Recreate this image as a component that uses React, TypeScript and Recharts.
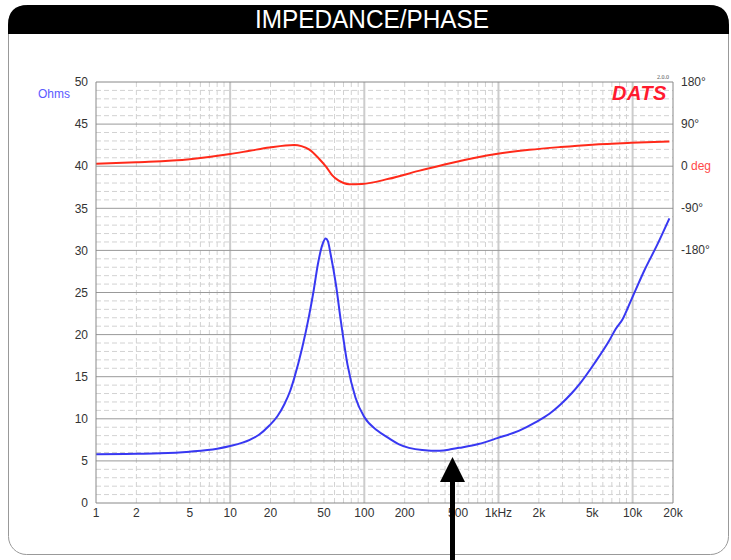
import React from 'react';
import { ComposedChart, Line, XAxis, YAxis, ReferenceLine } from 'recharts';

// ---- data ----
const IMP_FREQ = [1, 2, 3, 5, 8, 10, 14, 16.4, 19.6, 22.5, 25.3, 28, 30, 34.4, 38.7, 42, 45, 49, 51.5, 53.5, 56, 61.5, 67, 75, 86, 100, 125, 152, 180, 270, 365, 450, 510, 710, 980, 1430, 1900, 2400, 2900, 3500, 4100, 5200, 6700, 7500, 8400, 9700, 12300, 15400, 18800];
const IMP_OHMS = [5.78, 5.85, 5.9, 6.1, 6.45, 6.77, 7.5, 8.1, 9.2, 10.3, 11.7, 13.3, 14.8, 18.4, 22.2, 25.3, 28.3, 30.8, 31.4, 31.1, 29.6, 25.9, 21.5, 16.4, 12.5, 10.2, 8.6, 7.7, 7.0, 6.3, 6.2, 6.4, 6.55, 7.0, 7.7, 8.6, 9.6, 10.6, 11.7, 13.0, 14.3, 16.6, 19.3, 20.7, 21.8, 24.0, 27.7, 30.8, 33.8];

const PHASE_FREQ = [1, 2, 5, 10, 14, 19.6, 30, 34, 38.7, 46, 52, 57.5, 64.5, 77, 96, 152, 254, 445, 960, 1700, 2900, 5000, 9700, 18800];
const PHASE_DEG = [5, 8.5, 15, 26, 33, 40, 45.5, 43, 36, 16, -1.5, -19, -31, -38.5, -38, -27, -10, 7, 26, 35, 41, 46, 50, 53];

const FREQ_TICKS = [1, 2, 5, 10, 20, 50, 100, 200, 500, 1000, 2000, 5000, 10000, 20000];
const FREQ_LABELS = ['1', '2', '5', '10', '20', '50', '100', '200', '500', '1kHz', '2k', '5k', '10k', '20k'];
const OHM_TICKS = [0, 5, 10, 15, 20, 25, 30, 35, 40, 45, 50];
const DEG_TICKS = [180, 90, 0, -90, -180];

const impData = IMP_FREQ.map((f, i) => ({ f, z: IMP_OHMS[i] }));
const phaseData = PHASE_FREQ.map((f, i) => ({ f, p: PHASE_DEG[i] }));

// grid positions
const DECADES = [1, 10, 100, 1000, 10000];
const MINOR_X: number[] = [];
DECADES.forEach((d) => {
  for (let m = 2; m <= 9; m++) {
    const v = d * m;
    if (v < 20000) MINOR_X.push(v);
  }
});
const MAJOR_X = [10, 100, 1000, 10000];
const MINOR_Y: number[] = [];
for (let i = 1; i < 50; i++) if (i % 5 !== 0) MINOR_Y.push(i);
const MAJOR_Y = [5, 10, 15, 20, 25, 30, 35, 40, 45];

const FONT = '"Liberation Sans", Arial, Helvetica, sans-serif';

const PhaseTick = (props: any) => {
  const { x, y, payload } = props;
  const v = payload.value;
  if (v === 0) {
    return (
      <text x={x} y={y} dy={4} fontSize={12} fontFamily={FONT} fill="#333" textAnchor="start">
        <tspan>0 </tspan>
        <tspan fill="#ff4a4a">deg</tspan>
      </text>
    );
  }
  return (
    <text x={x} y={y} dy={4} fontSize={12} fontFamily={FONT} fill="#333" textAnchor="start">
      {`${v}°`}
    </text>
  );
};

export default function App() {
  return (
    <div style={{ position: 'absolute', left: 0, top: 0, width: 731, height: 560, background: '#fff', overflow: 'hidden' }}>
      <svg width={731} height={560} style={{ position: 'absolute', left: 0, top: 0 }}>
        <rect x={8.5} y={5.5} width={720} height={549} rx={18} ry={18} fill="#fff" stroke="#999" strokeWidth={1} />
        <path d="M8,34 L8,25 Q8,5 28,5 L709,5 Q729,5 729,25 L729,34 Z" fill="#000" />
        <text x={372} y={28} textAnchor="middle" fill="#fff" fontSize={25} fontFamily='"Liberation Sans Narrow", "Liberation Sans", Arial, sans-serif' textLength={234} lengthAdjust="spacingAndGlyphs">
          IMPEDANCE/PHASE
        </text>
      </svg>
      <div style={{ position: 'absolute', left: 0, top: 0 }}>
        <ComposedChart width={731} height={560} margin={{ top: 82, right: 0, bottom: 0, left: 0 }}>
          <XAxis
            dataKey="f"
            type="number"
            scale="log"
            domain={[1, 20000]}
            ticks={FREQ_TICKS}
            tickFormatter={(v: number) => FREQ_LABELS[FREQ_TICKS.indexOf(v)] ?? ''}
            allowDataOverflow
            height={57}
            tickLine={false}
            tickSize={4}
            tickMargin={1}
            interval={0}
            axisLine={{ stroke: '#888' }}
            tick={{ fontSize: 12, fontFamily: FONT, fill: '#333' }}
          />
          <YAxis
            yAxisId="left"
            type="number"
            domain={[0, 50]}
            ticks={OHM_TICKS}
            interval={0}
            width={96}
            tickLine={false}
            tickSize={6}
            tickMargin={2}
            axisLine={{ stroke: '#888' }}
            tick={{ fontSize: 12, fontFamily: FONT, fill: '#333' }}
          />
          <YAxis
            yAxisId="right"
            orientation="right"
            type="number"
            domain={[-720, 180]}
            ticks={DEG_TICKS}
            interval={0}
            width={58}
            tickLine={false}
            tickSize={6}
            tickMargin={2}
            axisLine={{ stroke: '#888' }}
            tick={<PhaseTick />}
          />
          {MINOR_Y.map((v) => (
            <ReferenceLine key={'my' + v} yAxisId="left" y={v} stroke="#d2d2d2" strokeDasharray="5 3" />
          ))}
          {MINOR_X.map((v) => (
            <ReferenceLine key={'mx' + v} yAxisId="left" x={v} stroke="#d2d2d2" strokeDasharray="5 3" />
          ))}
          {MAJOR_X.map((v) => (
            <ReferenceLine key={'Mx' + v} yAxisId="left" x={v} stroke="#cccccc" strokeWidth={2} />
          ))}
          {MAJOR_Y.map((v) => (
            <ReferenceLine key={'My' + v} yAxisId="left" y={v} stroke="#999" />
          ))}
          <ReferenceLine yAxisId="left" y={50} stroke="#888" />
          <Line
            yAxisId="right"
            data={phaseData}
            dataKey="p"
            type="monotone"
            stroke="#ff2a1a"
            strokeWidth={2}
            dot={false}
            isAnimationActive={false}
          />
          <Line
            yAxisId="left"
            data={impData}
            dataKey="z"
            type="monotone"
            stroke="#3838f2"
            strokeWidth={2}
            dot={false}
            isAnimationActive={false}
          />
        </ComposedChart>
      </div>
      <svg width={731} height={560} style={{ position: 'absolute', left: 0, top: 0, pointerEvents: 'none' }}>
        <text x={38} y={98} fontSize={12} fontFamily={FONT} fill="#5b5bff">Ohms</text>
        <text x={612} y={100} fontSize={20} fontWeight="bold" fontStyle="italic" fontFamily={FONT} fill="#ff1a2e" letterSpacing={0.5}>DATS</text>
        <text x={657} y={79} fontSize={6} fontFamily="serif" fill="#555">2.0.0</text>
        <rect x={450} y={480} width={5} height={80} fill="#000" />
        <path d="M452.5,457 L440,482 L465,482 Z" fill="#000" />
      </svg>
    </div>
  );
}
